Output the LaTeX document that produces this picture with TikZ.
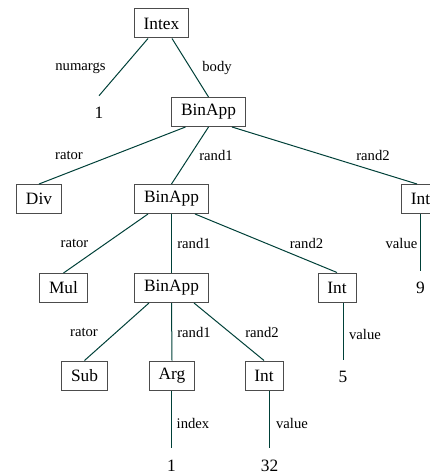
\documentclass[tikz,border=0pt]{standalone}
\usepackage{fontspec}
\setmainfont{Liberation Serif}
\usepackage{tikz}
\definecolor{edgecol}{RGB}{0, 64, 56}
\tikzset{>=latex}
\tikzset{
    box/.style={draw=black!70, line width=.75pt, font=\fontsize{13}{15}\selectfont, minimum height=21.75pt, minimum width=28.5pt, inner xsep=7pt, inner ysep=0pt},
    leaf/.style={font=\fontsize{13}{15}\selectfont, minimum height=25.5pt, inner sep=0pt},
    lbl/.style={font=\fontsize{11}{13}\selectfont, inner sep=0pt},
    edge/.style={draw=edgecol, line width=.75pt}
}

\begin{document}
\begin{tikzpicture}[x=.75pt, y=-.75pt]
    \useasboundingbox(0, 0)rectangle(429, 474);
    % boxes
    \node[box](intex)at(161.5, 23.5){Intex};
    \node[box](app1)at(208.5, 112){BinApp};
    \node[box](div)at(39, 199){Div};
    \node[box](app2)at(171.5, 199){BinApp};
    \node[box](intR)at(420.5, 199){Int};
    \node[box](mul)at(63.5, 288){Mul};
    \node[box](app3)at(171.5, 288){BinApp};
    \node[box](intM)at(337, 287.5){Int};
    \node[box](sub)at(84.5, 375.5){Sub};
    \node[box](arg)at(172, 375.5){Arg};
    \node[box](intL)at(264, 375.5){Int};
    % leaves
    \node[leaf](nargs)at(99, 113){1};
    \node[leaf](nine)at(420.5, 288){9};
    \node[leaf](five)at(343, 377){5};
    \node[leaf](idx)at(171.5, 465.5){1};
    \node[leaf](val)at(269.5, 465.5){32};
    % edges
    \draw[edge]([shift={(-13.5, 0)}]intex.south)--(nargs.north);
    \draw[edge]([shift={(10.5, 0)}]intex.south)--(app1.north);
    \draw[edge]([shift={(-23, 0)}]app1.south)--(div.north);
    \draw[edge](app1.south)--(app2.north);
    \draw[edge]([shift={(23.5, 0)}]app1.south)--([shift={(-3.5, 0)}]intR.north);
    \draw[edge]([shift={(-23.5, 0)}]app2.south)--(mul.north);
    \draw[edge](app2.south)--(app3.north);
    \draw[edge]([shift={(23.5, 0)}]app2.south)--(intM.north);
    \draw[edge]([shift={(-22.5, 0)}]app3.south)--(sub.north);
    \draw[edge](app3.south)--(arg.north);
    \draw[edge]([shift={(22.5, 0)}]app3.south)--(intL.north);
    \draw[edge](intR.south -| nine.north)--(nine.north);
    \draw[edge](intM.south -| five.north)--(five.north);
    \draw[edge](arg.south -| idx.north)--(idx.north);
    \draw[edge](intL.south -| val.north)--(val.north);
    % edge labels
    \node[lbl]at(80.5, 68){numargs};
    \node[lbl]at(217, 68){body};
    \node[lbl]at(69, 155){rator};
    \node[lbl]at(216, 155){rand1};
    \node[lbl]at(373, 155){rand2};
    \node[lbl]at(74.5, 243){rator};
    \node[lbl]at(194, 243){rand1};
    \node[lbl]at(306.5, 243){rand2};
    \node[lbl]at(401.5, 243){value};
    \node[lbl]at(84, 332){rator};
    \node[lbl]at(194, 332){rand1};
    \node[lbl]at(262, 332){rand2};
    \node[lbl]at(365, 334){value};
    \node[lbl]at(193, 423){index};
    \node[lbl]at(292, 423){value};
\end{tikzpicture}
\end{document}
